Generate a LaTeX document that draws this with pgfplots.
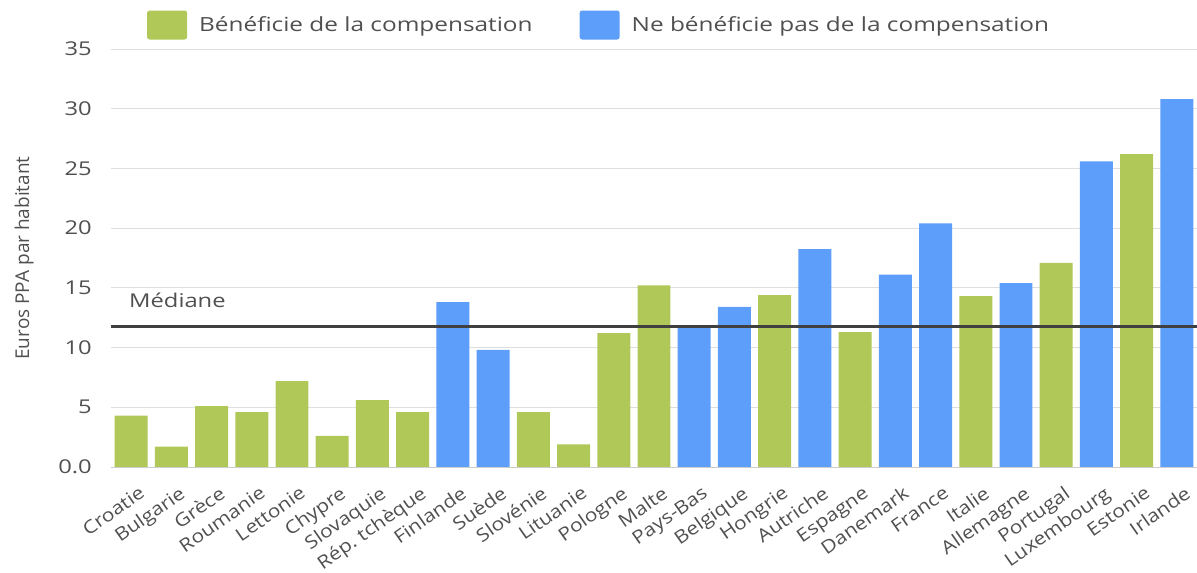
\documentclass[border=0pt]{standalone}
\usepackage{pgfplots}
\pgfplotsset{compat=1.18}
\usepackage{fontspec}
\setmainfont{Open Sans}[FakeStretch=1.25]
\newfontfamily\xfont{Open Sans}[FakeStretch=1.15]
\newfontfamily\plainfont{Open Sans}
\definecolor{cgreen}{RGB}{176,200,88}
\definecolor{cblue}{RGB}{92,158,250}
\definecolor{ctext}{RGB}{80,80,80}
\definecolor{cgrid}{RGB}{222,222,222}
\begin{document}
\begin{tikzpicture}
\begin{axis}[
  name=ax,
  scale only axis,
  width=1086pt, height=418pt,
  xmin=-0.5, xmax=26.5,
  ymin=0, ymax=35,
  axis line style={draw=none},
  major tick length=0pt,
  ytick={0,5,...,35},
  yticklabels={0.0,5,10,15,20,25,30,35},
  ymajorgrids,
  grid style={cgrid, line width=1pt},
  xtick={0,...,26},
  xticklabels={Croatie,Bulgarie,Grèce,Roumanie,Lettonie,Chypre,Slovaquie,Rép.\ tchèque,Finlande,Suède,Slovénie,Lituanie,Pologne,Malte,Pays-Bas,Belgique,Hongrie,Autriche,Espagne,Danemark,France,Italie,Allemagne,Portugal,Luxembourg,Estonie,Irlande},
  /pgf/number format/assume math mode=true,
  ticklabel style={text=ctext},
  yticklabel style={anchor=east, inner sep=0pt, xshift=-19pt, font=\fontsize{19}{22}\selectfont},
  xticklabel style={xshift=7pt, yshift=-18pt, rotate=35, anchor=north east, inner sep=0pt, font=\xfont\fontsize{18.2}{20}\selectfont},
  ylabel={Euros PPA par habitant},
  ylabel style={at={(axis description cs:-0.08,0.5)}, anchor=center, text=ctext, font=\plainfont\fontsize{19}{22}\selectfont},
  ybar, bar width=0.82,
  legend style={at={(axis description cs:0.0331,1)}, anchor=west, yshift=24pt, draw=none, fill=none, inner sep=0pt,
    legend columns=2, font=\fontsize{19.5}{24}\selectfont, text=ctext,
    /tikz/every odd column/.append style={column sep=10pt},
    /tikz/every even column/.append style={column sep=45pt}},
  legend cell align=left,
  legend image code/.code={\fill[#1, rounded corners=2.5pt] (0pt,-14.5pt) rectangle (40pt,14.5pt);},
]
\addplot[fill=cgreen, draw=none, bar shift=0pt] coordinates {
(0,4.3) (1,1.7) (2,5.1) (3,4.6) (4,7.2) (5,2.6) (6,5.6) (7,4.6)
(10,4.6) (11,1.9) (12,11.2) (13,15.2) (16,14.4) (18,11.3) (21,14.3) (23,17.1) (25,26.2)};
\addlegendentry{Bénéficie de la compensation}
\addplot[fill=cblue, draw=none, bar shift=0pt] coordinates {
(8,13.8) (9,9.8) (14,11.8) (15,13.4) (17,18.25) (19,16.1) (20,20.4) (22,15.4) (24,25.6) (26,30.8)};
\addlegendentry{Ne bénéficie pas de la compensation}
\addplot[ybar=false, sharp plot, forget plot, draw={rgb,255:red,205;green,205;blue,205}, line width=1pt] coordinates {(-0.5,0) (26.5,0)};
\addplot[ybar=false, sharp plot, forget plot, draw={rgb,255:red,64;green,64;blue,64}, line width=3.5pt] coordinates {(-0.5,11.75) (26.5,11.75)};
\node[anchor=base west, text=ctext, font=\fontsize{19}{22}\selectfont, inner sep=0pt] at (axis cs:-0.5,11.75) [xshift=18pt, yshift=19pt] {Médiane};
\end{axis}
\pgfresetboundingbox
\path (ax.south west) ++(-111pt,-106pt) rectangle ++(1197pt,573pt);
\end{tikzpicture}
\end{document}
